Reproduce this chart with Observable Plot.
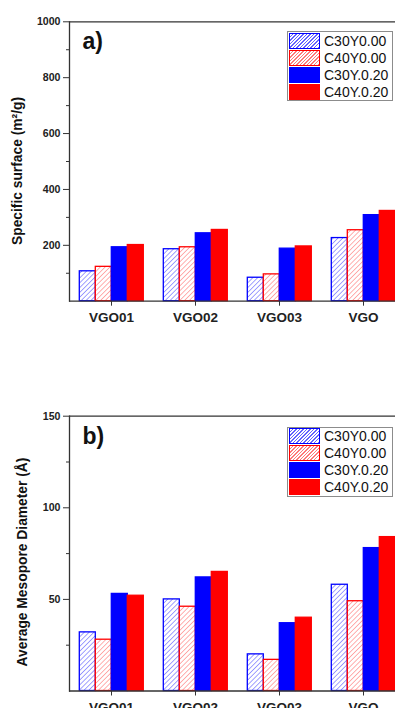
<!DOCTYPE html>
<html><head><meta charset="utf-8">
<script src="https://cdn.jsdelivr.net/npm/d3@7"></script>
<script src="https://cdn.jsdelivr.net/npm/@observablehq/plot@0.6"></script>
<style>
html,body{margin:0;padding:0;background:#fff;}
#wrap{position:relative;width:395px;height:708px;overflow:hidden;font-family:"Liberation Sans",Arial,sans-serif;background:#fff;}
.panel{position:absolute;left:0;width:406px;}
.panel svg{display:block;max-width:none !important;width:406px;}
.ylab{position:absolute;white-space:nowrap;font-weight:bold;font-size:13.8px;line-height:1;transform:translate(-50%,-50%) rotate(-90deg);color:#111;}
.legend{position:absolute;left:287px;width:106px;border:1px solid #8c8c8c;background:#fff;box-sizing:border-box;padding:0 0 0 1px;}
.row{height:17px;display:flex;align-items:center;}
.sw{width:31px;height:16px;box-sizing:border-box;margin-right:4px;}
.row span{font-size:14px;color:#111;}
</style>
</head><body>
<svg width="0" height="0" style="position:absolute">
 <defs>
  <pattern id="hatchBlue" patternUnits="userSpaceOnUse" width="3.4" height="3.4" patternTransform="rotate(45)">
   <rect width="3.4" height="3.4" fill="#fff"/>
   <line x1="0" y1="0" x2="0" y2="3.4" stroke="#6464ff" stroke-width="1.2"/>
  </pattern>
  <pattern id="hatchRed" patternUnits="userSpaceOnUse" width="3.4" height="3.4" patternTransform="rotate(45)">
   <rect width="3.4" height="3.4" fill="#fff"/>
   <line x1="0" y1="0" x2="0" y2="3.4" stroke="#ff7a7a" stroke-width="1.2"/>
  </pattern>
 </defs>
</svg>
<div id="wrap"></div>
<script>
const groups = ["VGO01", "VGO02", "VGO03", "VGO"];
const series = ["C30Y0.00", "C40Y0.00", "C30Y.0.20", "C40Y.0.20"];

// a) Specific surface (m²/g)
const surfaceC30Y000 = [107, 186, 84, 226];
const surfaceC40Y000 = [123, 193, 96, 254];
const surfaceC30Y020 = [193, 243, 188, 308];
const surfaceC40Y020 = [201, 255, 196, 323];
const surfaceTicks = [200, 400, 600, 800, 1000];
const surfaceMinorTicks = [100, 300, 500, 700, 900];

// b) Average Mesopore Diameter (Å)
const diameterC30Y000 = [32, 50, 20, 58];
const diameterC40Y000 = [28, 46, 17, 49];
const diameterC30Y020 = [53, 62, 37, 78];
const diameterC40Y020 = [52, 65, 40, 84];
const diameterTicks = [50, 100, 150];
const diameterMinorTicks = [25, 75, 125];

const seriesStyle = [
  {fill: "url(#hatchBlue)", stroke: "#0000ff", css: "background:repeating-linear-gradient(135deg,#fff 0 1.5px,#6464ff 1.5px 2.5px);border:1.5px solid #0000ff;"},
  {fill: "url(#hatchRed)", stroke: "#ff0000", css: "background:repeating-linear-gradient(135deg,#fff 0 1.5px,#ff7a7a 1.5px 2.5px);border:1.5px solid #ff0000;"},
  {fill: "#0000ff", stroke: "#0000ff", css: "background:#0000ff;"},
  {fill: "#ff0000", stroke: "#ff0000", css: "background:#ff0000;"}
];

function table(cols) {
  return series.flatMap((s, i) => groups.map((g, j) => ({group: g, series: s, value: cols[i][j]})));
}

const wrap = document.getElementById("wrap");

function panel({top, data, yMax, ticks, minor, tag, marginTop, marginBottom, ylabel, ylabX, ylabY, legendTop}) {
  const fontFamily = "'Liberation Sans', Arial, sans-serif";
  const svg = Plot.plot({
    width: 406, height: 354,
    marginLeft: 67.7, marginRight: 0.5, marginTop, marginBottom,
    style: {fontFamily, background: "transparent", color: "#222", maxWidth: "none"},
    fx: {domain: groups, padding: 0, label: null, axis: null},
    x: {domain: series, paddingInner: 0, paddingOuter: 0.52, axis: null},
    y: {domain: [0, yMax], axis: null},
    marks: [
      ...series.map((s, i) => Plot.barY(data.filter(d => d.series === s), {
        fx: "group", x: "series", y: "value",
        fill: seriesStyle[i].fill, stroke: seriesStyle[i].stroke, strokeWidth: 1.3
      })),
      Plot.ruleY([0], {stroke: "#333", strokeWidth: 1.3}),
      Plot.ruleY([yMax], {stroke: "#333", strokeWidth: 1.3}),
      Plot.frame({anchor: "left", facetAnchor: "left", stroke: "#333", strokeWidth: 1.3}),
      Plot.axisY({ticks, tickSize: 6, tickPadding: 3, tickFormat: d => String(d), fontSize: 10.6, fontWeight: "bold", label: null, stroke: "#333"}),
      Plot.axisY({ticks: minor, tickSize: 3, tickFormat: () => "", label: null, stroke: "#333"}),
      Plot.axisFx({anchor: "bottom", tickSize: 5, tickPadding: 6, fontSize: 13.5, fontWeight: "bold", label: null, stroke: "#333"}),
      Plot.text([{group: groups[0], tag}], {
        fx: "group", text: "tag", frameAnchor: "top-left", dx: 13, dy: 11,
        lineAnchor: "top", fontSize: 23, fontWeight: "bold", fill: "#111"
      })
    ]
  });
  const div = document.createElement("div");
  div.className = "panel";
  div.style.top = top + "px";
  div.appendChild(svg);
  wrap.appendChild(div);

  const yl = document.createElement("div");
  yl.className = "ylab";
  yl.style.left = ylabX + "px";
  yl.style.top = ylabY + "px";
  yl.textContent = ylabel;
  wrap.appendChild(yl);

  const lg = document.createElement("div");
  lg.className = "legend";
  lg.style.top = legendTop + "px";
  series.forEach((s, i) => {
    const r = document.createElement("div");
    r.className = "row";
    const sw = document.createElement("div");
    sw.className = "sw";
    sw.style.cssText = seriesStyle[i].css;
    const t = document.createElement("span");
    t.textContent = s;
    r.appendChild(sw); r.appendChild(t);
    lg.appendChild(r);
  });
  wrap.appendChild(lg);
}

panel({
  top: 0,
  data: table([surfaceC30Y000, surfaceC40Y000, surfaceC30Y020, surfaceC40Y020]),
  yMax: 1000, ticks: surfaceTicks, minor: surfaceMinorTicks, tag: "a)",
  marginTop: 21.3, marginBottom: 53.3,
  ylabel: "Specific surface (m²/g)", ylabX: 17.7, ylabY: 171, legendTop: 31
});
panel({
  top: 354,
  data: table([diameterC30Y000, diameterC40Y000, diameterC30Y020, diameterC40Y020]),
  yMax: 150, ticks: diameterTicks, minor: diameterMinorTicks, tag: "b)",
  marginTop: 61.7, marginBottom: 17.5,
  ylabel: "Average Mesopore Diameter (Å)", ylabX: 23.4, ylabY: 561.5, legendTop: 426.5
});
</script>
</body></html>
